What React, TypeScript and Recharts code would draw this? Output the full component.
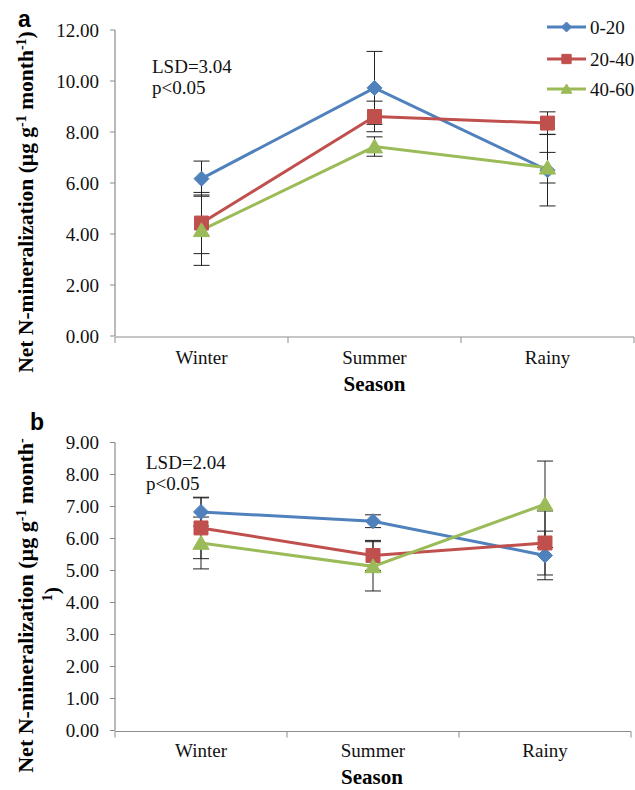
import React from 'react';
import { LineChart, Line, XAxis, YAxis, ErrorBar, Legend, Customized } from 'recharts';

const seasons = ['Winter', 'Summer', 'Rainy'];
const seriesNames = ['0-20', '20-40', '40-60'];
const colors = ['#4F81BD', '#C0504D', '#9BBB59'];
const shapes = ['diamond', 'square', 'triangle'];

// Panel a values and error bars
const aVal0 = [6.17, 9.73, 6.5];
const aVal1 = [4.43, 8.61, 8.35];
const aVal2 = [4.15, 7.43, 6.6];
const aErr0 = [0.69, 1.43, 1.4];
const aErr1 = [1.2, 0.6, 0.44];
const aErr2 = [1.38, 0.38, 0.6];

// Panel b values and error bars
const bVal0 = [6.83, 6.54, 5.47];
const bVal1 = [6.33, 5.47, 5.86];
const bVal2 = [5.86, 5.13, 7.07];
const bErr0 = [0.44, 0.2, 0.76];
const bErr1 = [0.96, 0.47, 1.0];
const bErr2 = [0.81, 0.77, 1.35];

const aTicks = [0, 2, 4, 6, 8, 10, 12];
const bTicks = [0, 1, 2, 3, 4, 5, 6, 7, 8, 9];
const boundaryTicks = [0, 1, 2, 3];
const centerTicks = [0.5, 1.5, 2.5];

const lsdA = ['LSD=3.04', 'p<0.05'];
const lsdB = ['LSD=2.04', 'p<0.05'];

const build = (v0: number[], v1: number[], v2: number[], e0: number[], e1: number[], e2: number[]) =>
  seasons.map((s, i) => ({
    x: i + 0.5,
    season: s,
    v0: v0[i],
    v1: v1[i],
    v2: v2[i],
    e0: e0[i],
    e1: e1[i],
    e2: e2[i],
  }));

const dataA = build(aVal0, aVal1, aVal2, aErr0, aErr1, aErr2);
const dataB = build(bVal0, bVal1, bVal2, bErr0, bErr1, bErr2);

const SERIF = 'Liberation Serif, Times New Roman, serif';
const SANS = 'Liberation Sans, Arial, sans-serif';
const AXIS = '#8c8c8c';
const TXT = '#111111';

const markerPath = (shape: string, cx: number, cy: number, s: number) => {
  if (shape === 'diamond') {
    return `M${cx},${cy - s}L${cx + s},${cy}L${cx},${cy + s}L${cx - s},${cy}Z`;
  }
  if (shape === 'square') {
    const h = s * 0.93;
    return `M${cx - h},${cy - h}H${cx + h}V${cy + h}H${cx - h}Z`;
  }
  const w = s * 1.08;
  return `M${cx},${cy - s}L${cx + w},${cy + s * 0.85}L${cx - w},${cy + s * 0.85}Z`;
};

const makeDot = (idx: number) => (props: any) => {
  const { cx, cy, key } = props;
  if (cx == null || cy == null) return <g key={key} />;
  return <path key={key} d={markerPath(shapes[idx], cx, cy, 7.5)} fill={colors[idx]} stroke={colors[idx]} strokeWidth={1} />;
};

const LegendBox = () => (
  <svg width={95} height={90} style={{ overflow: 'visible', display: 'block' }}>
    {seriesNames.map((n, i) => {
      const y = 15 + [0, 32, 62][i];
      return (
        <g key={n}>
          <line x1={2} x2={41} y1={y} y2={y} stroke={colors[i]} strokeWidth={3} />
          <path d={markerPath(shapes[i], 21.5, y, 5)} fill={colors[i]} stroke={colors[i]} />
          <text x={45} y={y + 6.5} fontFamily={SERIF} fontSize={19} fill={TXT}>
            {n}
          </text>
        </g>
      );
    })}
  </svg>
);

const yLabelMain = (last: boolean) => (
  <>
    <tspan>Net N-mineralization  (µg g</tspan>
    <tspan dy={-7} fontSize={14}>-1</tspan>
    <tspan dy={7}> month</tspan>
    <tspan dy={-7} fontSize={14}>{last ? '-1' : '-'}</tspan>
    {last ? <tspan dy={7}>)</tspan> : null}
  </>
);

const OverlayA = () => (
  <g>
    <text x={18} y={27} fontFamily={SANS} fontWeight="bold" fontSize={23} fill="#000">a</text>
    {lsdA.map((t, i) => (
      <text key={t} x={152} y={73 + i * 21} fontFamily={SERIF} fontSize={19} fill={TXT}>{t}</text>
    ))}
    <text transform="translate(32.5,202) rotate(-90)" textAnchor="middle" fontFamily={SERIF} fontWeight="bold" fontSize={21.5} fill="#000">
      {yLabelMain(true)}
    </text>
    <text x={374.5} y={391} textAnchor="middle" fontFamily={SERIF} fontWeight="bold" fontSize={21} fill="#000">Season</text>
  </g>
);

const OverlayB = () => (
  <g>
    <text x={30} y={40} fontFamily={SANS} fontWeight="bold" fontSize={23} fill="#000">b</text>
    {lsdB.map((t, i) => (
      <text key={t} x={146} y={79 + i * 21} fontFamily={SERIF} fontSize={19} fill={TXT}>{t}</text>
    ))}
    <text transform="translate(33,215.5) rotate(-90)" textAnchor="middle" fontFamily={SERIF} fontWeight="bold" fontSize={22} fill="#000">
      {yLabelMain(false)}
    </text>
    <text transform="translate(59,204) rotate(-90)" textAnchor="middle" fontFamily={SERIF} fontWeight="bold" fontSize={22} fill="#000">
      <tspan dy={-7} fontSize={14}>1</tspan>
      <tspan dy={7}>)</tspan>
    </text>
    <text x={372} y={394} textAnchor="middle" fontFamily={SERIF} fontWeight="bold" fontSize={21} fill="#000">Season</text>
  </g>
);

const tickStyle = { fontFamily: SERIF, fontSize: 19, fill: TXT };

const renderSeries = () =>
  [0, 1, 2].map((i) => (
    <Line
      key={seriesNames[i]}
      xAxisId="t"
      yAxisId="y"
      type="linear"
      dataKey={`v${i}`}
      name={seriesNames[i]}
      stroke={colors[i]}
      strokeWidth={3}
      dot={makeDot(i)}
      activeDot={false}
      isAnimationActive={false}
    >
      <ErrorBar dataKey={`e${i}`} width={8} stroke="#222" strokeWidth={1} direction="y" />
    </Line>
  ));

const axesX = (labelMargin: number) => [
  <XAxis
    key="t"
    xAxisId="t"
    type="number"
    dataKey="x"
    domain={[0, 3]}
    ticks={boundaryTicks}
    tickFormatter={() => ''}
    tickSize={6}
    height={1}
    stroke={AXIS}
    axisLine={{ stroke: AXIS, strokeWidth: 1.2 }}
    tickLine={{ stroke: AXIS }}
    interval={0}
  />,
  <XAxis
    key="c"
    xAxisId="c"
    type="number"
    dataKey="x"
    domain={[0, 3]}
    ticks={centerTicks}
    tickFormatter={(v: number) => seasons[Math.floor(v)]}
    axisLine={false}
    tickLine={false}
    tickSize={6}
    tickMargin={labelMargin}
    height={1}
    tick={tickStyle}
    interval={0}
  />,
];

export default function App() {
  return (
    <div style={{ position: 'absolute', left: 0, top: 0, width: 635, height: 790, background: '#fff' }}>
      <div style={{ position: 'absolute', left: 0, top: 0 }}>
        <LineChart width={635} height={396} data={dataA} margin={{ top: 30, right: 1, bottom: 58, left: 114 }}>
          {axesX(9)}
          <YAxis
            yAxisId="y"
            type="number"
            domain={[0, 12]}
            ticks={aTicks}
            tickFormatter={(v: number) => v.toFixed(2)}
            width={1}
            tickSize={5}
            tickMargin={11}
            axisLine={{ stroke: AXIS, strokeWidth: 1.2 }}
            tickLine={{ stroke: AXIS }}
            tick={tickStyle}
            interval={0}
          />
          {renderSeries()}
          <Legend
            layout="horizontal"
            verticalAlign="middle"
            align="center"
            wrapperStyle={{ position: 'absolute', left: 545, top: 12, width: 95, height: 90 }}
            content={() => <LegendBox />}
          />
          <Customized component={OverlayA} />
        </LineChart>
      </div>
      <div style={{ position: 'absolute', left: 0, top: 390 }}>
        <LineChart width={635} height={400} data={dataB} margin={{ top: 52.5, right: 4, bottom: 57.5, left: 114 }}>
          {axesX(7)}
          <YAxis
            yAxisId="y"
            type="number"
            domain={[0, 9]}
            ticks={bTicks}
            tickFormatter={(v: number) => v.toFixed(2)}
            width={1}
            tickSize={5}
            tickMargin={11}
            axisLine={{ stroke: AXIS, strokeWidth: 1.2 }}
            tickLine={{ stroke: AXIS }}
            tick={tickStyle}
            interval={0}
          />
          {renderSeries()}
          <Customized component={OverlayB} />
        </LineChart>
      </div>
    </div>
  );
}
